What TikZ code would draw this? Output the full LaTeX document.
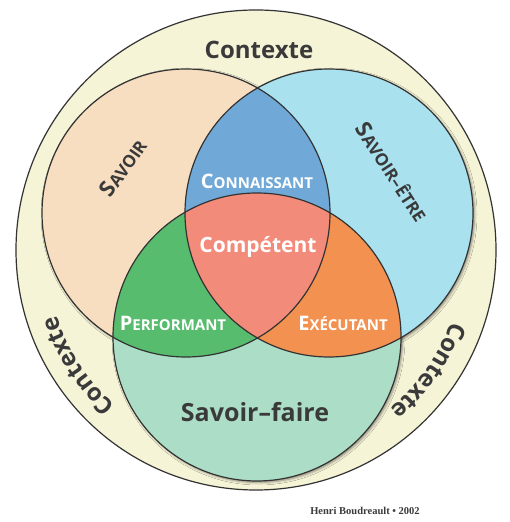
\documentclass[tikz,border=0pt]{standalone}
\usepackage{fontspec}
\setsansfont{Open Sans}
\newfontfamily\creditfont{Liberation Serif}
\usetikzlibrary{shadows.blur, decorations.text}
\newcommand{\petitecap}[4]{{\fontsize{#1}{#1}\selectfont #3}{\fontsize{#2}{#2}\selectfont #4}}

\begin{document}
\begin{tikzpicture}[x=1pt, y=1pt, font=\sffamily]
    % --- Estilos ---
    \tikzset{
        venn/.style={draw=lineink, line width=1.2pt},
        darklabel/.style={text=ink, inner sep=0pt},
        whitelabel/.style={text=white, inner sep=0pt, font=\sffamily\bfseries}
    }
    \definecolor{ink}{HTML}{3A3A3A}
    \definecolor{lineink}{HTML}{333333}
    \def\rr{144}

    \useasboundingbox (0,0) rectangle (510,522);
    \fill[white] (0,0) rectangle (510,522);

    % --- Centres des cercles ---
    \coordinate (ctx) at (256,272);
    \coordinate (savoir) at (186,309);
    \coordinate (etre) at (329,309);
    \coordinate (faire) at (257,185);

    % --- Contexte ---
    \definecolor{contextecream}{HTML}{F6F4D7}
    \draw[venn, fill=contextecream] (ctx) circle (240);

    % --- Ombres ---
    \foreach \c in {savoir, etre, faire} {
        \fill[contextecream, blur shadow={shadow xshift=1.5pt, shadow yshift=-1.5pt,
            shadow blur radius=2.5pt, shadow opacity=45}] (\c) circle (\rr);
    }

    % --- Les trois savoirs ---
    \definecolor{savoirpeach}{HTML}{F8DEC0}
    \fill[savoirpeach] (savoir) circle (\rr);
    \definecolor{etreblue}{HTML}{A9E1EF}
    \fill[etreblue] (etre) circle (\rr);
    \definecolor{fairemint}{HTML}{ABDDC7}
    \fill[fairemint] (faire) circle (\rr);

    % --- Intersections ---
    \definecolor{connblue}{HTML}{70A9D7}
    \begin{scope}
        \clip (savoir) circle (\rr);
        \fill[connblue] (etre) circle (\rr);
    \end{scope}
    \definecolor{perfgreen}{HTML}{57BC6E}
    \begin{scope}
        \clip (savoir) circle (\rr);
        \fill[perfgreen] (faire) circle (\rr);
    \end{scope}
    \definecolor{execorange}{HTML}{F39250}
    \begin{scope}
        \clip (etre) circle (\rr);
        \fill[execorange] (faire) circle (\rr);
    \end{scope}
    \definecolor{compsalmon}{HTML}{F28B7A}
    \begin{scope}
        \clip (savoir) circle (\rr);
        \clip (etre) circle (\rr);
        \fill[compsalmon] (faire) circle (\rr);
    \end{scope}

    % --- Contours ---
    \foreach \c in {savoir, etre, faire} {
        \draw[venn] (\c) circle (\rr);
    }

    % --- Etiquettes ---
    \node[darklabel, font=\sffamily\bfseries\fontsize{24}{24}\selectfont] (contextetop) at (259,472) {Contexte};
    \path[decorate, decoration={text along path, text align=center,
        text={|\sffamily\bfseries\fontsize{24}{24}\selectfont\color{ink}|Contexte}}]
        ([shift={(238:210)}]ctx) arc[start angle=238, end angle=188, radius=210];
    \path[decorate, decoration={text along path, text align=center,
        text={|\sffamily\bfseries\fontsize{24}{24}\selectfont\color{ink}|Contexte}}]
        ([shift={(350:208)}]ctx) arc[start angle=350, end angle=300, radius=208];

    \node[darklabel, font=\sffamily\bfseries, rotate=55] (savoirlabel) at (123,354) {\petitecap{22}{17}{S}{AVOIR}};
    \node[darklabel, font=\sffamily\bfseries, rotate=-57] (etrelabel) at (392,350) {\petitecap{22}{17}{S}{AVOIR–ÊTRE}};
    \node[whitelabel] (connaissant) at (257,341) {\petitecap{20}{15}{C}{ONNAISSANT}};
    \node[whitelabel, font=\sffamily\bfseries\fontsize{21}{21}\selectfont] (competent) at (258,275) {Compétent};
    \node[whitelabel] (performant) at (173,199) {\petitecap{20}{15}{P}{ERFORMANT}};
    \node[whitelabel] (executant) at (343,199) {\petitecap{20}{15}{E}{XÉCUTANT}};
    \node[darklabel, font=\sffamily\bfseries\fontsize{25}{25}\selectfont] (savoirfaire) at (255,110) {Savoir–faire};
    \node[darklabel, font=\creditfont\bfseries\fontsize{10.5}{10.5}\selectfont] (credit) at (365,11) {Henri Boudreault • 2002};
\end{tikzpicture}
\end{document}
